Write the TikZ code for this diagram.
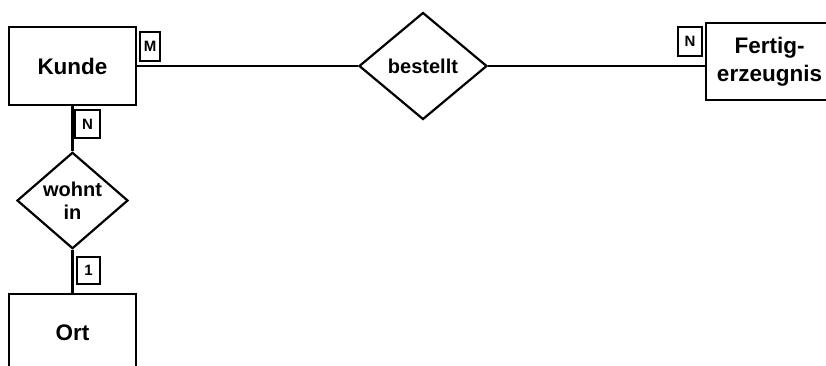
\documentclass[tikz,border=0pt]{standalone}
\usepackage{fontspec}
\setmainfont{Liberation Sans}
\usetikzlibrary{positioning,shapes.geometric}

\begin{document}
\begin{tikzpicture}[on grid,line width=2.2pt,
		entity node/.style={rectangle,draw,fill=white,minimum width=127pt,minimum height=78pt,
			inner sep=0pt,align=center,font=\fontsize{22.5}{28}\selectfont\bfseries},
		rel node/.style={diamond,draw,fill=white,inner sep=0pt,align=center,
			font=\fontsize{20}{23}\selectfont\bfseries},
		card node/.style={rectangle,draw,fill=white,minimum width=22pt,minimum height=28pt,
			inner sep=0pt,font=\fontsize{15}{16}\selectfont\bfseries}]
	
	\useasboundingbox (0,0) rectangle (826pt,-365pt);
	\clip (0,0) rectangle (826pt,-365pt);
	
	\node[entity node] (1) at (72.5pt,-66pt) {Kunde};
	\node[rel node,minimum width=128pt,minimum height=107pt] (2) [right=350.5pt of 1] {bestellt};
	\node[entity node,minimum height=77pt] (3) [above right=4.5pt and 346.5pt of 2] {Fertig-\\erzeugnis};
	\node[rel node,minimum width=111pt,minimum height=95pt] (4) [below=134.5pt of 1] {wohnt\\in};
	\node[entity node] (5) [below=132.5pt of 4] {Ort};
	
	\path[every edge/.style={draw,line width=2.2pt}]
	(1) edge (2)
	(2.east) edge (2.east -| 3.west)
	(1) edge (4)
	(4) edge (5)
	;
	
	\node[card node,minimum width=20pt,minimum height=29pt] (1a) [above right=19.5pt and 77.5pt of 1] {M};
	\node[card node,minimum width=25pt] (1b) [below right=58pt and 15pt of 1] {N};
	\node[card node,minimum width=24pt,minimum height=29pt] (3a) [above left=20pt and 79.5pt of 3] {N};
	\node[card node,minimum width=23pt,minimum height=27pt] (5a) [above right=62.5pt and 16pt of 5] {1};
\end{tikzpicture}
\end{document}
